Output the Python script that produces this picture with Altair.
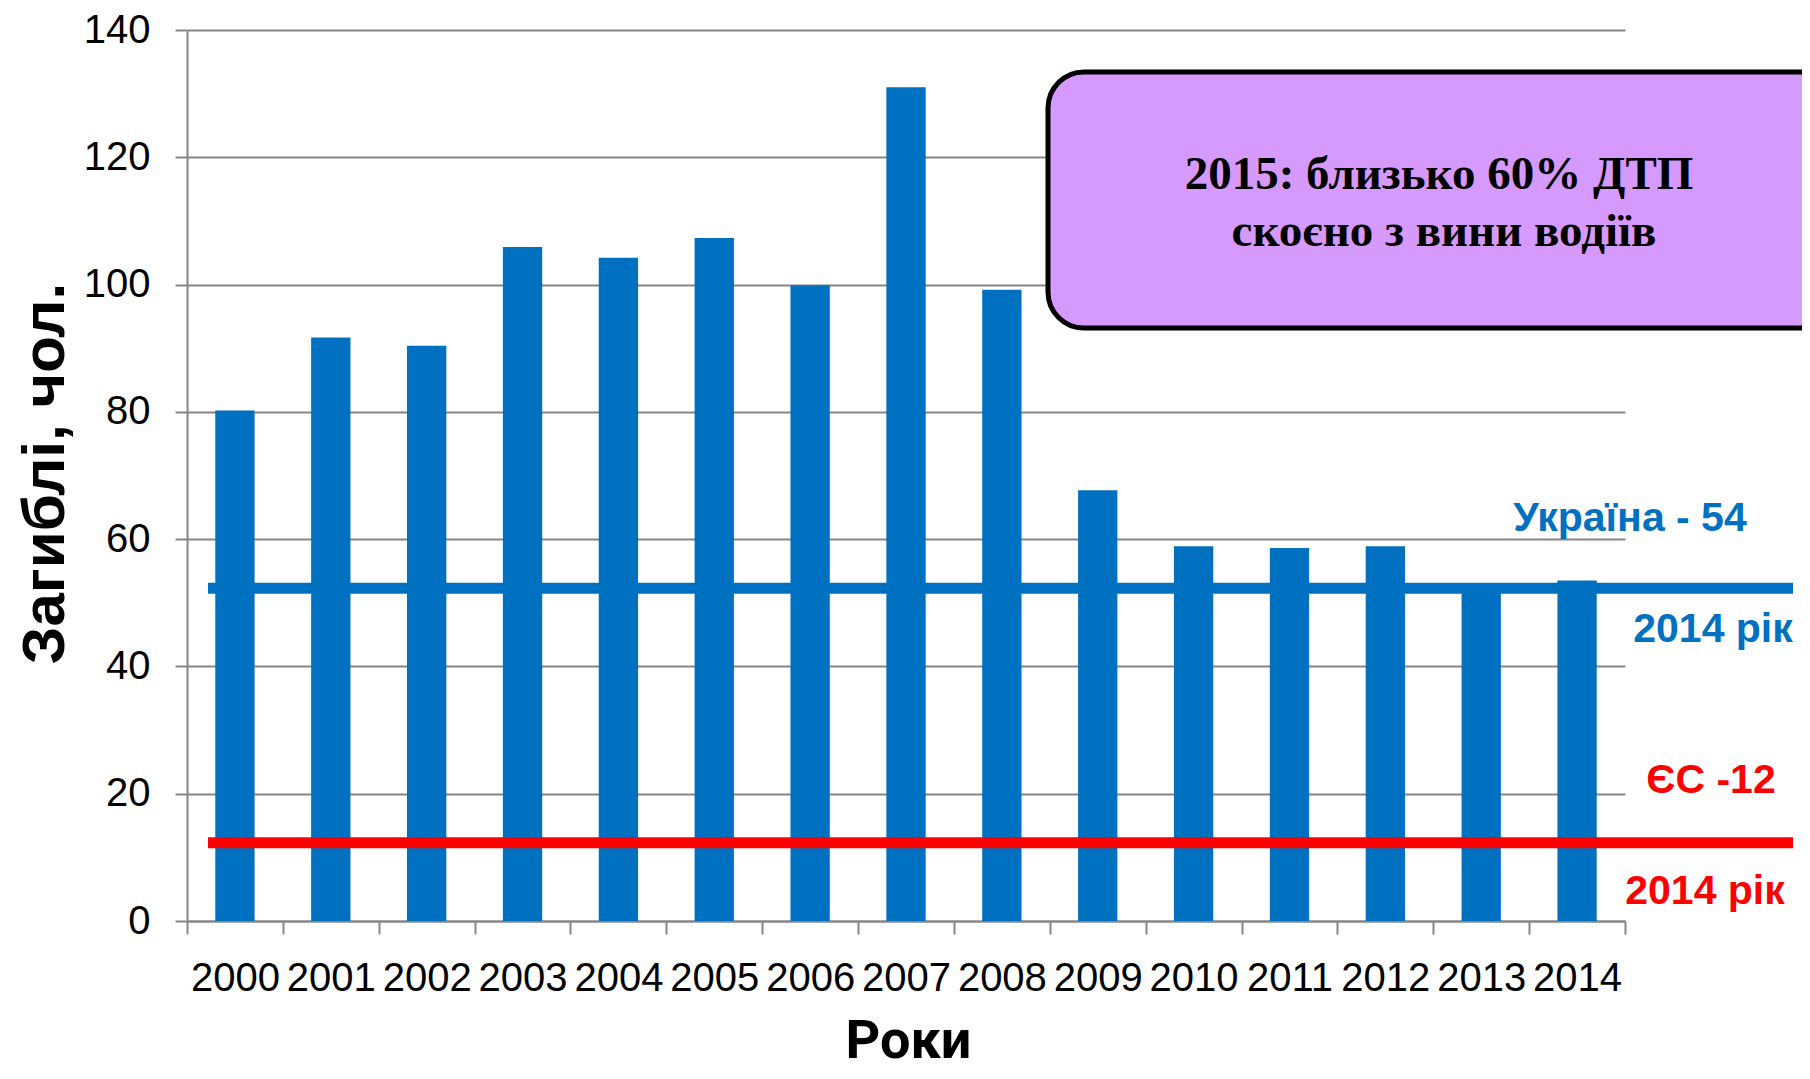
import altair as alt
import pandas as pd

years = ["2000", "2001", "2002", "2003", "2004", "2005", "2006", "2007",
         "2008", "2009", "2010", "2011", "2012", "2013", "2014"]
deaths = [80.2, 91.7, 90.4, 105.9, 104.2, 107.3, 99.9, 131.0,
          99.2, 67.7, 58.9, 58.6, 58.9, 52.5, 53.5]
ukraine_2014 = 52.3
eu_2014 = 12.3

y_ticks = [0, 20, 40, 60, 80, 100, 120, 140]
y_title = "Загиблі, чол."
x_title = "Роки"
box_line1 = "2015: близько 60% ДТП"
box_line2 = "скоєно з вини водіїв"
ua_label = "Україна - 54"
eu_label = "ЄС -12"
year_label = "2014 рік"

BLUE = "#0070C0"
RED = "#FF0000"
GRID = "#868686"

df = pd.DataFrame({"year": years, "deaths": deaths})
one = pd.DataFrame({"k": [0]})

W, H = 1438, 891
TOP = 22

bars = alt.Chart(df).mark_bar(color=BLUE, width=alt.RelativeBandSize(0.41)).encode(
    x=alt.X("year:N", sort=years,
            scale=alt.Scale(paddingInner=0, paddingOuter=0),
            axis=alt.Axis(title=x_title, labelAngle=0, labelFontSize=40,
                          labelFont="Liberation Sans", labelColor="black",
                          labelOverlap=False, labelBound=False,
                          labelBaseline="middle", labelPadding=44,
                          tickBand="extent", tickSize=13, tickWidth=2,
                          tickColor=GRID, domainColor=GRID, domainWidth=2,
                          titleFont="Roboto", titleFontSize=54, titleFontWeight="bold",
                          titleColor="black", titleX=721, titleY=120,
                          titleBaseline="middle", titleAlign="center")),
    y=alt.Y("deaths:Q",
            scale=alt.Scale(domain=[0, 140], nice=False),
            axis=alt.Axis(title=y_title, values=y_ticks, labelFontSize=40,
                          labelFont="Liberation Sans", labelColor="black",
                          labelPadding=25, tickSize=12, tickWidth=2,
                          tickColor=GRID, domainColor=GRID, domainWidth=2,
                          grid=True, gridColor=GRID, gridWidth=2,
                          titleFont="Liberation Sans", titleFontSize=60,
                          titleFontWeight="bold", titleColor="black",
                          titleX=-142, titleY=443, titleBaseline="middle",
                          titleAlign="center", titleAngle=270)),
)

ua_line = alt.Chart(one).mark_rule(color=BLUE, strokeWidth=11).encode(
    y=alt.datum(ukraine_2014), x=alt.value(21), x2=alt.value(1606))
eu_line = alt.Chart(one).mark_rule(color=RED, strokeWidth=11).encode(
    y=alt.datum(eu_2014), x=alt.value(21), x2=alt.value(1606))

box = alt.Chart(one).mark_rect(fill="#D699FE", stroke="black", strokeWidth=5,
                               cornerRadius=36).encode(
    x=alt.value(861), x2=alt.value(1650), y=alt.value(42), y2=alt.value(298))

def label(txt, x, y, color, size=41, font="Liberation Sans"):
    return alt.Chart(one).mark_text(text=txt, font=font, fontSize=size,
                                    fontWeight="bold", color=color,
                                    align="center", baseline="middle").encode(
        x=alt.value(x), y=alt.value(y))

t1 = label(box_line1, 1252, 145, "black", size=47, font="Liberation Serif")
t2 = label(box_line2, 1257, 202, "black", size=47, font="Liberation Serif")
l1 = label(ua_label, 1443, 489, BLUE)
l2 = label(year_label, 1526, 600, BLUE)
l3 = label(eu_label, 1524, 751, RED)
l4 = label(year_label, 1518, 862, RED)

chart = alt.layer(bars, ua_line, eu_line, box, t1, t2, l1, l2, l3, l4).properties(
    width=W, height=H,
    autosize=alt.AutoSizeParams(type="none"),
    padding={"left": 179, "top": TOP, "right": 177, "bottom": 150},
    background="white",
).configure_view(stroke=None)

chart.save("out.html", embed_options={"renderer": "svg", "actions": False})
